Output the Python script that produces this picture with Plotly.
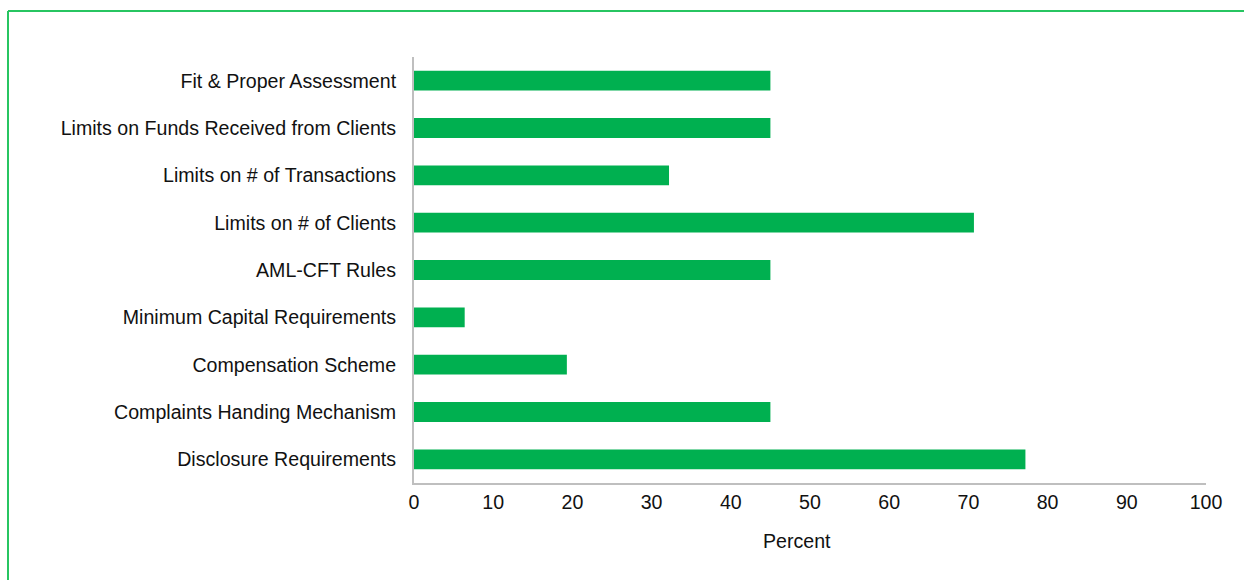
import plotly.graph_objects as go

categories = [
    "Fit & Proper Assessment",
    "Limits on Funds Received from Clients",
    "Limits on # of Transactions",
    "Limits on # of Clients",
    "AML-CFT Rules",
    "Minimum Capital Requirements",
    "Compensation Scheme",
    "Complaints Handing Mechanism",
    "Disclosure Requirements",
]
values = [45.0, 45.0, 32.2, 70.7, 45.0, 6.4, 19.3, 45.0, 77.2]
x_ticks = [0, 10, 20, 30, 40, 50, 60, 70, 80, 90, 100]
x_title = "Percent"

FONT = "Liberation Sans, Arial, sans-serif"
FS = 19.6
GREEN = "#00b050"
BORDER = "#27c561"
TXT = "#111111"

fig = go.Figure(
    go.Bar(
        y=categories,
        x=values,
        orientation="h",
        marker=dict(color=GREEN, line=dict(width=0)),
        width=0.42,
        hoverinfo="x+y",
    )
)

W, H = 1244, 580
ml, mr, mt, mb = 414, 38, 57, 97
pw, ph = W - ml - mr, H - mt - mb

def px_to_paper_x(px):
    return (px - ml) / pw

def px_to_paper_y(py):
    return 1 - (py - mt) / ph

fig.update_layout(
    width=W,
    height=H,
    margin=dict(l=ml, r=mr, t=mt, b=mb, pad=0),
    paper_bgcolor="white",
    plot_bgcolor="white",
    showlegend=False,
    font=dict(family=FONT, size=FS, color=TXT),
    xaxis=dict(
        range=[0, 100],
        tickvals=x_ticks,
        ticks="",
        showgrid=False,
        zeroline=False,
        showline=True,
        linecolor="#bfbfbf",
        linewidth=2,
        tickfont=dict(family=FONT, size=FS, color=TXT),
        fixedrange=True,
    ),
    yaxis=dict(
        categoryorder="array",
        categoryarray=categories[::-1],
        ticks="",
        showgrid=False,
        zeroline=False,
        showline=True,
        linecolor="#bfbfbf",
        linewidth=2,
        ticklabelstandoff=12,
        tickfont=dict(family=FONT, size=FS, color=TXT),
        fixedrange=True,
    ),
    annotations=[
        dict(text=x_title, xref="paper", yref="paper",
             x=px_to_paper_x(797), y=px_to_paper_y(541),
             xanchor="center", yanchor="middle", showarrow=False,
             font=dict(family=FONT, size=FS, color=TXT)),
    ],
    shapes=[
        dict(type="line", xref="paper", yref="paper",
             x0=px_to_paper_x(8), x1=px_to_paper_x(1250),
             y0=px_to_paper_y(11), y1=px_to_paper_y(11),
             line=dict(color=BORDER, width=2), layer="above"),
        dict(type="line", xref="paper", yref="paper",
             x0=px_to_paper_x(8), x1=px_to_paper_x(8),
             y0=px_to_paper_y(11), y1=px_to_paper_y(590),
             line=dict(color=BORDER, width=2), layer="above"),
    ],
)

fig.write_html("out.html", config={"displayModeBar": False})

# remove the default 8px page margin so the figure sits at the window origin
with open("out.html", "r", encoding="utf-8") as f:
    html = f.read()
html = html.replace("<body>", '<body style="margin:0;padding:0;overflow:hidden">', 1)
with open("out.html", "w", encoding="utf-8") as f:
    f.write(html)
